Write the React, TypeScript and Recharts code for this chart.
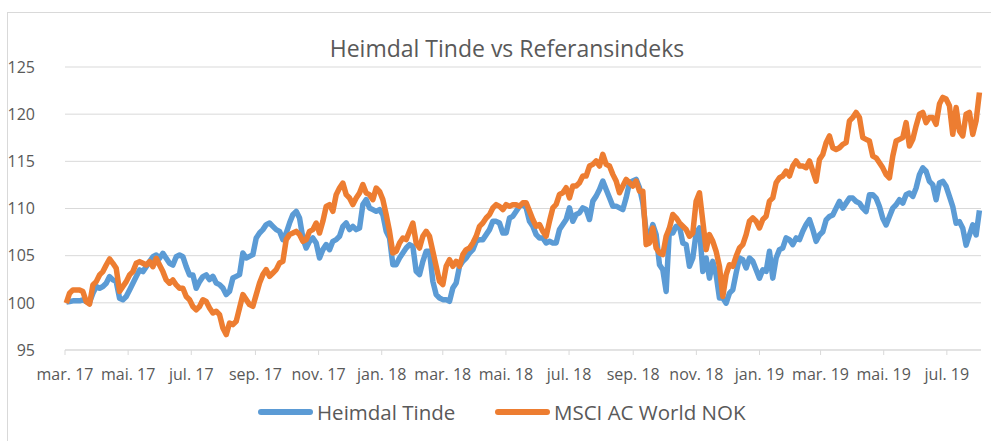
import { LineChart, Line, XAxis, YAxis, CartesianGrid } from 'recharts'

// x-axis: first of every second month, Norwegian short labels
const tickDates = [
  '2017-03-01', '2017-05-01', '2017-07-01', '2017-09-01', '2017-11-01',
  '2018-01-01', '2018-03-01', '2018-05-01', '2018-07-01', '2018-09-01',
  '2018-11-01', '2019-01-01', '2019-03-01', '2019-05-01', '2019-07-01',
]
const tickLabels = [
  'mar. 17', 'mai. 17', 'jul. 17', 'sep. 17', 'nov. 17',
  'jan. 18', 'mar. 18', 'mai. 18', 'jul. 18', 'sep. 18',
  'nov. 18', 'jan. 19', 'mar. 19', 'mai. 19', 'jul. 19',
]
const yTicks = [95, 100, 105, 110, 115, 120, 125]

// indexed values (start = 100), every third day
const heimdal = [
  100.07, 100.14, 100.21, 100.21, 100.21, 100.32, 100.14, 100.07, 101.02, 101.73,
  101.55, 101.73, 102.08, 102.78, 102.43, 102.25, 100.49, 100.32, 100.67, 101.37,
  102.08, 102.78, 103.49, 103.31, 103.84, 104.37, 104.89, 105.07, 104.72, 105.25,
  104.72, 104.19, 104.01, 104.89, 105.07, 104.89, 103.84, 102.96, 102.96, 101.55,
  102.25, 102.78, 102.96,
  102.46, 102.81, 102.10, 101.93, 101.57, 100.87, 101.22, 102.63, 102.81, 102.99,
  105.28, 104.75, 104.93, 105.11, 106.87, 107.40, 107.76, 108.29, 108.46, 108.11,
  107.76, 107.58, 106.70, 107.40, 108.46, 109.35, 109.70, 108.99, 106.87, 105.81,
  106.52, 106.87, 106.34, 104.75, 105.64, 106.17, 105.64, 106.52, 106.70, 107.05,
  108.11, 108.46, 107.76, 108.11, 107.76,
  107.93, 110.41, 110.94, 110.05, 109.88, 109.70, 109.88, 109.35, 107.58, 106.87,
  104.05, 104.05, 104.75, 105.28, 105.81, 106.17, 105.99, 103.34, 102.99, 104.40,
  105.46, 105.46, 102.28, 100.87, 100.51, 100.34, 100.34, 100.16, 101.57, 102.10,
  103.87, 104.40, 104.75, 105.28, 105.64, 106.52, 106.70, 106.70, 107.23, 107.76,
  108.64, 108.64, 108.46, 107.40, 107.40, 108.99, 109.17, 109.70,
  110.25, 110.43, 110.07, 108.65, 108.12, 107.23, 106.88, 106.88, 106.35, 106.52,
  106.35, 106.35, 107.77, 108.30, 108.83, 110.07, 108.65, 109.36, 109.54, 110.07,
  109.89, 108.83, 110.78, 111.31, 112.02, 112.91, 112.02, 111.13, 110.25, 110.25,
  110.07, 109.89, 111.13, 112.73, 112.91, 113.09, 112.20, 110.60, 107.59, 107.06,
  108.30, 107.23, 104.04, 103.51, 101.21, 107.94,
  107.41, 108.12, 108.12, 106.35, 106.17, 103.87, 104.75, 107.41, 107.94, 103.33,
  104.75, 102.62, 104.40, 102.98, 100.50, 100.50, 99.96, 101.03, 101.38, 103.16,
  104.75, 104.57, 103.69, 104.75, 104.40, 103.51, 102.62, 103.51, 103.33, 105.46,
  102.62, 104.75, 105.64, 105.82, 106.88, 106.70, 106.17, 106.88, 106.70, 107.59,
  108.30, 108.83, 107.77, 106.52,
  107.19, 107.54, 108.79, 109.15, 109.32, 110.04, 110.75, 110.04, 110.57, 111.10,
  111.10, 110.75, 110.57, 110.04, 109.68, 111.46, 111.46, 111.10, 110.21, 108.97,
  108.26, 109.15, 110.04, 110.39, 110.93, 110.57, 111.46, 111.64, 111.28, 112.17,
  113.59, 114.31, 113.95, 112.88, 112.53, 110.93, 112.70, 112.88, 112.35, 111.28,
  110.21, 108.43, 108.61, 107.90, 106.12, 107.19, 108.26, 107.19, 109.80,
]

const msci = [
  99.96, 101.02, 101.37, 101.37, 101.37, 101.20, 100.14, 99.86, 101.90, 102.25,
  102.96, 103.31, 104.01, 104.65, 104.19, 103.66, 101.20, 101.73, 102.25, 102.96,
  103.31, 104.19, 104.37, 104.19, 104.01, 104.37, 103.84, 104.72, 104.01, 103.31,
  102.43, 102.08, 102.43, 101.90, 101.55, 101.55, 100.67, 100.32, 99.61, 99.26,
  99.61, 100.32, 100.14,
  99.45, 98.92, 99.10, 98.75, 97.33, 96.63, 97.86, 97.69, 98.04, 99.45,
  100.87, 100.34, 99.81, 99.63, 100.87, 102.10, 102.99, 103.52, 102.81, 103.16,
  103.52, 104.22, 104.40, 106.70, 107.23, 107.40, 107.58, 107.23, 106.52, 106.70,
  107.58, 107.76, 108.46, 107.40, 108.64, 110.23, 110.41, 109.70, 111.47, 112.17,
  112.70, 111.47, 111.11, 110.41, 111.11,
  111.64, 112.53, 111.64, 111.47, 110.94, 112.17, 111.82, 110.94, 109.35, 107.58,
  105.28, 105.46, 106.34, 106.87, 106.70, 107.58, 108.46, 106.34, 105.81, 107.05,
  107.58, 107.05, 105.46, 103.87, 102.28, 101.93, 103.87, 104.58, 103.87, 104.40,
  103.87, 105.11, 105.64, 105.81, 106.34, 107.05, 108.11, 108.46, 108.99, 109.35,
  110.05, 110.41, 110.23, 109.88, 110.41, 110.23, 110.41, 110.41,
  110.25, 110.60, 110.60, 109.72, 108.83, 108.12, 108.30, 107.59, 107.06, 108.65,
  110.07, 110.43, 111.49, 111.67, 112.20, 111.13, 112.38, 112.38, 112.73, 113.44,
  113.44, 114.50, 114.68, 115.04, 114.50, 115.74, 114.68, 114.50, 113.62, 112.91,
  111.67, 112.38, 113.09, 112.73, 112.38, 112.91, 111.84, 111.84, 106.17, 106.35,
  107.94, 105.82, 105.28, 105.11, 107.06, 107.94,
  109.36, 109.01, 108.48, 108.12, 107.77, 107.06, 107.41, 110.78, 111.67, 108.65,
  105.64, 107.23, 106.52, 105.46, 103.87, 100.67, 102.98, 104.04, 103.87, 104.93,
  105.82, 106.17, 107.23, 108.65, 109.01, 108.65, 107.94, 108.83, 109.18, 110.78,
  111.13, 112.73, 113.26, 113.44, 113.97, 113.44, 114.50, 115.04, 114.50, 114.50,
  114.33, 115.04, 113.97, 112.91,
  115.20, 115.73, 116.98, 117.69, 116.44, 116.26, 116.44, 116.80, 116.98, 119.29,
  119.64, 120.18, 119.64, 117.51, 117.33, 117.15, 115.55, 115.37, 114.84, 114.31,
  113.59, 113.24, 115.55, 117.15, 117.33, 117.51, 119.11, 116.62, 117.33, 118.75,
  120.00, 120.18, 119.11, 119.64, 119.64, 118.93, 121.07, 121.78, 121.60, 120.89,
  117.86, 120.71, 118.22, 117.69, 120.00, 120.18, 117.86, 119.29, 122.30,
]

const DAY = 86400000
const START = Date.parse('2017-03-01')
const FIRST_DAY = 1.2   // first sample, days after 1 March 2017
const STEP_DAYS = 3.22  // spacing of the samples
const LAST_DAY = 885

const data = heimdal.map((v, i) => ({
  t: FIRST_DAY + i * STEP_DAYS,
  heimdal: v,
  msci: msci[i],
}))
const xTicks = tickDates.map(d => (Date.parse(d) - START) / DAY)
const fmtX = (v: number) => tickLabels[xTicks.indexOf(v)] ?? ''

const BLUE = '#5B9BD5'
const ORANGE = '#ED7D31'
const TEXT = '#595959'
const FONT = '"Open Sans", sans-serif'

function LegendItem({ color, label, left }: { color: string; label: string; left: number }) {
  return (
    <div style={{ position: 'absolute', left, top: 398, display: 'flex', alignItems: 'center' }}>
      <div style={{ width: 55, height: 6, borderRadius: 3, background: color, marginRight: 4 }} />
      <span style={{ fontSize: 20.5, color: TEXT, whiteSpace: 'nowrap' }}>{label}</span>
    </div>
  )
}

export default function App() {
  return (
    <div style={{ position: 'relative', width: 991, height: 441, overflow: 'hidden', fontFamily: FONT, background: '#fff' }}>
      <style>{'body{margin:0}'}</style>
      <div style={{ position: 'absolute', left: 7, top: 12, width: 1000, height: 440, border: '1px solid #d9d9d9' }} />
      <div style={{ position: 'absolute', left: 0, width: 1014, top: 32, textAlign: 'center', fontSize: 23, color: TEXT }}>
        Heimdal Tinde vs Referansindeks
      </div>
      <LineChart width={991} height={441} data={data} margin={{ top: 67, right: 10, bottom: 61, left: 0 }}
        style={{ position: 'absolute', left: 0, top: 0 }}>
        <CartesianGrid vertical={false} stroke="#d9d9d9" />
        <XAxis
          dataKey="t"
          type="number"
          domain={[0, LAST_DAY]}
          ticks={xTicks}
          tickFormatter={fmtX}
          interval={0}
          height={30}
          stroke="#d9d9d9"
          tickSize={5}
          tickMargin={14}
          tick={{ fontSize: 16, fill: TEXT, fontFamily: FONT }}
        />
        <YAxis
          type="number"
          domain={[95, 125]}
          ticks={yTicks}
          width={65}
          axisLine={false}
          tickLine={false}
          tickSize={6}
          tickMargin={24}
          tick={{ fontSize: 16, fill: TEXT, fontFamily: FONT }}
        />
        <Line type="linear" dataKey="heimdal" stroke={BLUE} strokeWidth={5.5} strokeLinejoin="round" dot={false} isAnimationActive={false} />
        <Line type="linear" dataKey="msci" stroke={ORANGE} strokeWidth={5.5} strokeLinejoin="round" dot={false} isAnimationActive={false} />
      </LineChart>
      <LegendItem color={BLUE} label="Heimdal Tinde" left={258} />
      <LegendItem color={ORANGE} label="MSCI AC World NOK" left={495} />
    </div>
  )
}
